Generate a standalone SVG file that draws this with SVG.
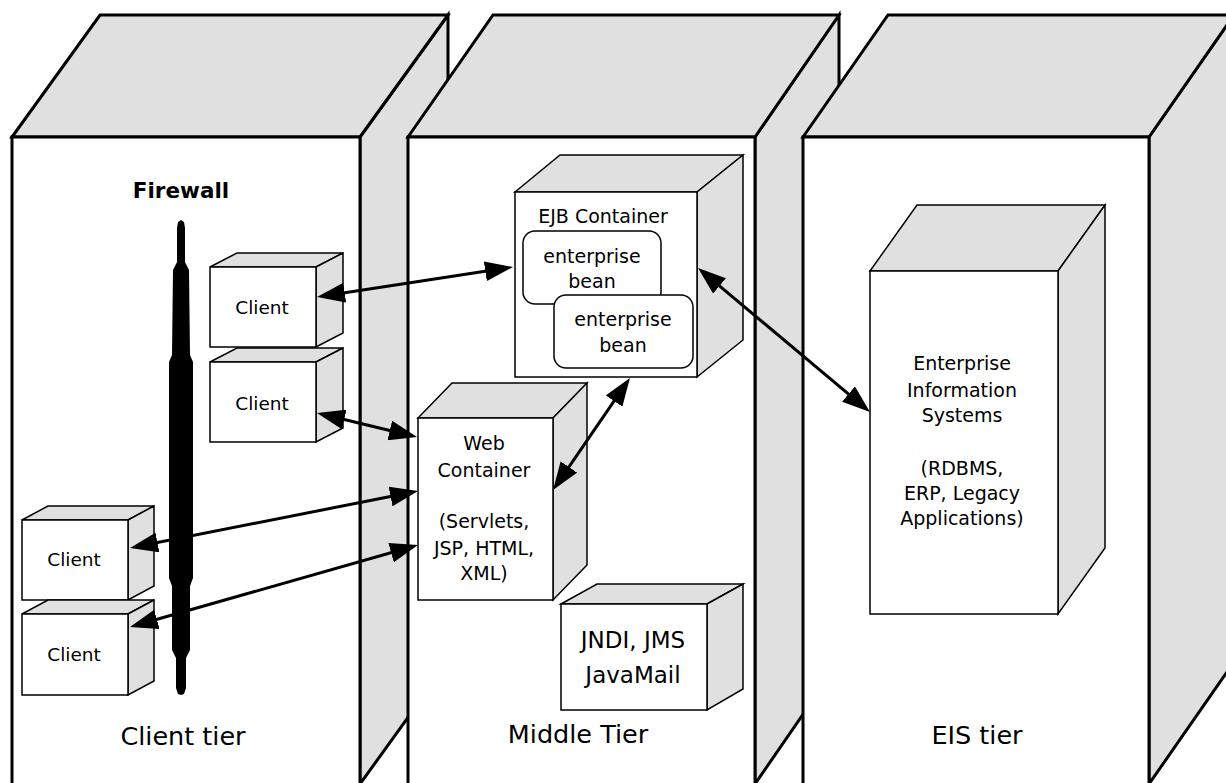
<svg xmlns="http://www.w3.org/2000/svg" width="1226" height="783" viewBox="0 0 1226 783">
  <defs>
    <style>
      .tier-face { fill: #ffffff; stroke: #000; stroke-width: 3; stroke-linejoin: miter; }
      .tier-shade { fill: #e0e0e0; stroke: #000; stroke-width: 3; stroke-linejoin: miter; }
      .box-face { fill: #ffffff; stroke: #000; stroke-width: 1.5; }
      .box-shade { fill: #e0e0e0; stroke: #000; stroke-width: 1.5; }
      .bean { fill: #ffffff; stroke: #000; stroke-width: 1.5; }
      .lbl { font-family: "DejaVu Sans", Verdana, sans-serif; fill: #000; text-anchor: middle; }
      .small { font-size: 19px; }
      .client { font-size: 18.5px; }
      .big { font-size: 23px; }
      .tier-title { font-size: 25.5px; }
      .fw-title { font-size: 21.5px; font-weight: bold; }
      .link { fill: none; stroke: #000; stroke-width: 3; marker-start: url(#head); marker-end: url(#head); }
    </style>
    <marker id="head" viewBox="0 0 28 20" markerWidth="28" markerHeight="20" refX="18" refY="10" markerUnits="userSpaceOnUse" orient="auto-start-reverse">
      <path d="M0,0 L28,10 L0,20 Z" fill="#000"/>
    </marker>
  </defs>

  <!-- Client tier slab -->
  <g id="tier-client">
    <polygon class="tier-shade" points="360,137 448,15 448,662 360,784"/>
    <polygon class="tier-shade" points="12,137 100,15 448,15 360,137"/>
    <rect class="tier-face" x="12" y="137" width="348" height="650"/>
    <text class="lbl fw-title" x="181" y="198">Firewall</text>
    <text class="lbl tier-title" x="183" y="745">Client tier</text>
  </g>

  <!-- Middle tier slab -->
  <g id="tier-middle">
    <polygon class="tier-shade" points="755,137 839,15 839,662 755,784"/>
    <polygon class="tier-shade" points="408,137 493,15 839,15 755,137"/>
    <rect class="tier-face" x="408" y="137" width="347" height="650"/>
    <text class="lbl tier-title" x="578" y="743">Middle Tier</text>
  </g>

  <!-- EIS tier slab -->
  <g id="tier-eis">
    <polygon class="tier-shade" points="1149,137 1234,15 1234,662 1149,784"/>
    <polygon class="tier-shade" points="803,137 888,15 1234,15 1149,137"/>
    <rect class="tier-face" x="803" y="137" width="346" height="650"/>
    <text class="lbl tier-title" x="977" y="744">EIS tier</text>
  </g>

  <!-- Firewall -->
  <g id="firewall">
    <path fill="#000" d="M181,220 L184,222 L185,228 L185,262 L189,270 L190,355 L193,362 L193,578 L190,586 L190,650 L186,658 L186,688 L184,694 L181,695 L178,694 L176,688 L176,658 L172,650 L172,586 L169,578 L169,362 L172,355 L173,270 L177,262 L177,228 L178,222 Z"/>
  </g>

  <!-- Client boxes -->
  <g id="client-1">
    <polygon class="box-shade" points="210,267 237,253 343,253 316,267"/>
    <polygon class="box-shade" points="316,267 343,253 343,333 316,347"/>
    <rect class="box-face" x="210" y="267" width="106" height="80"/>
    <text class="lbl client" x="262" y="314">Client</text>
  </g>
  <g id="client-2">
    <polygon class="box-shade" points="210,362 237,348 343,348 316,362"/>
    <polygon class="box-shade" points="316,362 343,348 343,428 316,442"/>
    <rect class="box-face" x="210" y="362" width="106" height="80"/>
    <text class="lbl client" x="262" y="410">Client</text>
  </g>
  <g id="client-3">
    <polygon class="box-shade" points="22,520 48,506 154,506 128,520"/>
    <polygon class="box-shade" points="128,520 154,506 154,586 128,600"/>
    <rect class="box-face" x="22" y="520" width="106" height="80"/>
    <text class="lbl client" x="74" y="566">Client</text>
  </g>
  <g id="client-4">
    <polygon class="box-shade" points="22,614 48,600 154,600 128,614"/>
    <polygon class="box-shade" points="128,614 154,600 154,681 128,695"/>
    <rect class="box-face" x="22" y="614" width="106" height="81"/>
    <text class="lbl client" x="74" y="661">Client</text>
  </g>

  <!-- EJB container with beans -->
  <g id="ejb-container">
    <polygon class="box-shade" points="515,192 560,155 743,155 697,192"/>
    <polygon class="box-shade" points="697,192 743,155 743,340 697,377"/>
    <rect class="box-face" x="515" y="192" width="182" height="185"/>
    <text class="lbl small" x="603" y="223">EJB Container</text>
  </g>
  <g id="bean-1">
    <rect class="bean" x="523" y="231" width="138" height="73" rx="12" ry="12"/>
    <text class="lbl small" x="592" y="263">enterprise</text>
    <text class="lbl small" x="592" y="288">bean</text>
  </g>
  <g id="bean-2">
    <rect class="bean" x="554" y="295" width="139" height="73" rx="12" ry="12"/>
    <text class="lbl small" x="623" y="326">enterprise</text>
    <text class="lbl small" x="623" y="352">bean</text>
  </g>

  <!-- Web container -->
  <g id="web-container">
    <polygon class="box-shade" points="418,418 452,383 587,383 553,418"/>
    <polygon class="box-shade" points="553,418 587,383 587,565 553,600"/>
    <rect class="box-face" x="418" y="418" width="135" height="182"/>
    <text class="lbl small" x="484" y="450">Web</text>
    <text class="lbl small" x="484" y="477">Container</text>
    <text class="lbl small" x="484" y="528">(Servlets,</text>
    <text class="lbl small" x="484" y="555">JSP, HTML,</text>
    <text class="lbl small" x="484" y="580">XML)</text>
  </g>

  <!-- Naming / messaging services -->
  <g id="services">
    <polygon class="box-shade" points="561,604 597,584 743,584 707,604"/>
    <polygon class="box-shade" points="707,604 743,584 743,689 707,710"/>
    <rect class="box-face" x="561" y="604" width="146" height="106"/>
    <text class="lbl big" x="633" y="648">JNDI, JMS</text>
    <text class="lbl big" x="633" y="683">JavaMail</text>
  </g>

  <!-- Enterprise information systems -->
  <g id="eis">
    <polygon class="box-shade" points="870,271 917,205 1105,205 1058,271"/>
    <polygon class="box-shade" points="1058,271 1105,205 1105,548 1058,614"/>
    <rect class="box-face" x="870" y="271" width="188" height="343"/>
    <text class="lbl small" x="962" y="370">Enterprise</text>
    <text class="lbl small" x="962" y="397">Information</text>
    <text class="lbl small" x="962" y="422">Systems</text>
    <text class="lbl small" x="962" y="475">(RDBMS,</text>
    <text class="lbl small" x="962" y="500">ERP, Legacy</text>
    <text class="lbl small" x="962" y="525">Applications)</text>
  </g>

  <!-- Two-way links -->
  <g id="connectors">
    <line class="link" x1="326.9" y1="295.5" x2="503.1" y2="268.5"/>
    <line class="link" x1="326.7" y1="415.3" x2="407.3" y2="434.7"/>
    <line class="link" x1="139.8" y1="546.0" x2="408.2" y2="493.0"/>
    <line class="link" x1="139.6" y1="624.3" x2="408.4" y2="547.7"/>
    <line class="link" x1="558.7" y1="481.8" x2="624.3" y2="386.2"/>
    <line class="link" x1="705.7" y1="274.4" x2="862.3" y2="405.6"/>
  </g>
</svg>
